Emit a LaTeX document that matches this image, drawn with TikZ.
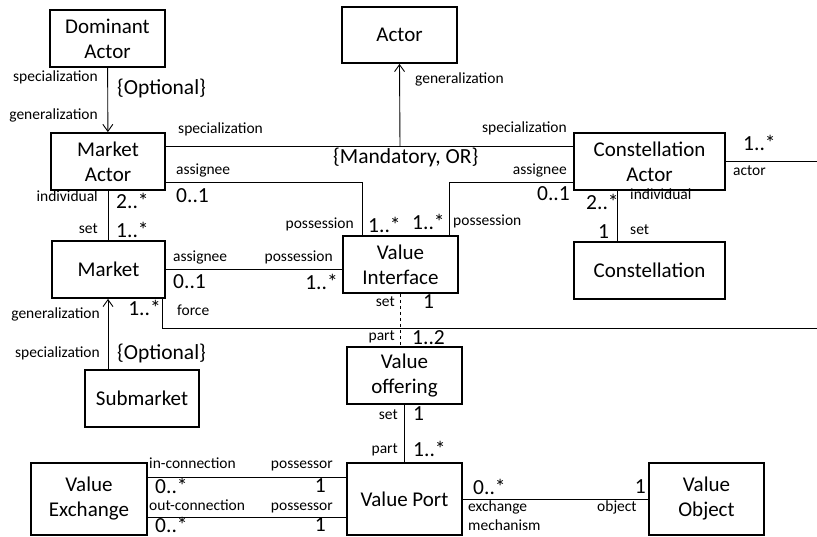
\documentclass[tikz,border=0pt]{standalone}
\usepackage{fontspec}
\setmainfont{Carlito}
\usetikzlibrary{arrows.meta}
\begin{document}
\begin{tikzpicture}[x=1pt,y=-1pt,
  cls/.style={draw,line width=1.8pt,align=center,inner sep=2pt,
    font=\fontsize{21}{25}\selectfont},
  role/.style={inner sep=0pt,font=\fontsize{15.5}{17}\selectfont},
  mult/.style={inner sep=0pt,font=\fontsize{21.5}{23}\selectfont},
  link/.style={line width=0.9pt},
  gen/.style={link,-{Straight Barb[length=7pt,width=10pt,line width=0.9pt]}}]
\useasboundingbox (0,0) rectangle (817,537);

% classes
\node[cls,minimum width=115,minimum height=57] (dom)    at (107.5,38.5) {Dominant\\Actor};
\node[cls,minimum width=115,minimum height=56] (actor)  at (399.5,35)   {Actor};
\node[cls,minimum width=114,minimum height=57] (mact)   at (108,161.5)  {Market\\Actor};
\node[cls,minimum width=151,minimum height=57] (cact)   at (649.5,161.5){Constellation\\Actor};
\node[cls,minimum width=113,minimum height=57] (market) at (108.5,269.5){Market};
\node[cls,minimum width=115,minimum height=57] (vi)     at (400.5,264.5){Value\\Interface};
\node[cls,minimum width=151,minimum height=57] (const)  at (649.5,270.5){Constellation};
\node[cls,minimum width=114,minimum height=57] (sub)    at (142,398.5)  {Submarket};
\node[cls,minimum width=115,minimum height=57] (voff)   at (404.5,375.5){Value\\offering};
\node[cls,minimum width=116,minimum height=72] (vex)    at (89,499)     {Value\\Exchange};
\node[cls,minimum width=115,minimum height=72] (vport)  at (404.5,499)  {Value Port};
\node[cls,minimum width=115,minimum height=72] (vobj)   at (706.5,499)  {Value\\Object};

% helper points for bends and free ends
\coordinate (j)  at (400,146);
\coordinate (a1) at (362,182);
\coordinate (a2) at (449,182);
\coordinate (ae) at (817,161);
\coordinate (f1) at (162,328);
\coordinate (f2) at (817,328);
\coordinate (c1) at (617,0);

% generalizations
\draw[gen] (dom) -- (mact);
\draw[gen] (j) -- (actor.south);
\draw[link] (mact.east |- j) -- (cact.west |- j);
\draw[gen] (sub.north -| mact.south) -- (mact.south |- market.south);

% associations
\draw[link] (mact.east |- a1) -- (a1) -- (a1 |- vi.north);
\draw[link] (cact.west |- a2) -- (a2) -- (a2 |- vi.north);
\draw[link] (cact.east |- ae) -- (ae);
\draw[link] (f1 |- market.south) -- (f1) -- (f2);
\draw[link] (mact.south) -- (mact.south |- market.north);
\draw[link] (market.east) -- (vi.west |- market.east);
\draw[link,dashed] (vi.south) -- (vi.south |- voff.north);
\draw[link] (cact.south -| c1) -- (const.north -| c1);
\draw[link] (voff.south) -- (vport.north);
\draw[link] (vex.east |- 0,477) -- (vport.west |- 0,477);
\draw[link] (vex.east |- 0,517) -- (vport.west |- 0,517);
\draw[link] (vport.east) -- (vobj.west);

% roles and multiplicities
\node[role,anchor=mid east] (r1) at (98,79) {specialization};
\node[mult,anchor=west] (o1) at (117,88) {\{Optional\}};
\node[role,anchor=mid east] (r2) at (98,117) {generalization};
\node[role,anchor=mid west] (r3) at (178,131) {specialization};
\node[mult,anchor=west] (o2) at (333,157) {\{Mandatory, OR\}};
\node[role,anchor=mid west] (r4) at (415,81) {generalization};
\node[role,anchor=mid east] (r5) at (567,130) {specialization};
\node[mult,anchor=west] (m1) at (743,143) {1..*};
\node[role,anchor=mid west] (r6) at (733,173) {actor};
\node[role,anchor=mid west] (r7) at (176,172) {assignee};
\node[mult,anchor=west] (m2) at (176,196) {0..1};
\node[role,anchor=mid east] (r8) at (567,172) {assignee};
\node[mult,anchor=east] (m3) at (570,194) {0..1};
\node[mult,anchor=west] (m4) at (586,202) {2..*};
\node[role,anchor=mid west] (r9) at (630,197) {individual};
\node[mult,anchor=west] (m5) at (598,232) {1};
\node[role,anchor=mid west] (r10) at (630,232) {set};
\node[role,anchor=mid east] (r11) at (98,199) {individual};
\node[mult,anchor=west] (m6) at (116,201) {2..*};
\node[role,anchor=mid east] (r12) at (98,231) {set};
\node[mult,anchor=west] (m7) at (116,230) {1..*};
\node[role,anchor=mid east] (r13) at (354,226) {possession};
\node[mult,anchor=west] (m8) at (368,225) {1..*};
\node[mult,anchor=west] (m9) at (412,222) {1..*};
\node[role,anchor=mid west] (r14) at (453,223) {possession};
\node[role,anchor=mid west] (r15) at (173,259) {assignee};
\node[role,anchor=mid east] (r16) at (333,259) {possession};
\node[mult,anchor=west] (m10) at (173,282) {0..1};
\node[mult,anchor=east] (m11) at (338,282) {1..*};
\node[mult,anchor=east] (m12) at (161,308) {1..*};
\node[role,anchor=mid west] (r17) at (177,313) {force};
\node[role,anchor=mid east] (r18) at (100,316) {generalization};
\node[role,anchor=mid east] (r19) at (100,355) {specialization};
\node[mult,anchor=west] (o3) at (117,353) {\{Optional\}};
\node[role,anchor=mid east] (r20) at (395,304) {set};
\node[mult,anchor=west] (m13) at (423,302) {1};
\node[role,anchor=mid east] (r21) at (395,338) {part};
\node[mult,anchor=west] (m14) at (412,338) {1..2};
\node[role,anchor=mid east] (r22) at (398,417) {set};
\node[mult,anchor=west] (m15) at (413,414) {1};
\node[role,anchor=mid east] (r23) at (398,451) {part};
\node[mult,anchor=west] (m16) at (413,449) {1..*};
\node[role,anchor=mid west] (r24) at (149,466) {in-connection};
\node[role,anchor=mid east] (r25) at (333,466) {possessor};
\node[mult,anchor=west] (m17) at (155,486) {0..*};
\node[mult,anchor=east] (m18) at (326,486) {1};
\node[role,anchor=mid west] (r26) at (149,508) {out-connection};
\node[role,anchor=mid east] (r27) at (333,508) {possessor};
\node[mult,anchor=west] (m19) at (155,525) {0..*};
\node[mult,anchor=east] (m20) at (326,525) {1};
\node[mult,anchor=west] (m21) at (473,487) {0..*};
\node[mult,anchor=east] (m22) at (646,487) {1};
\node[role,anchor=mid west] (r28) at (468,509) {exchange};
\node[role,anchor=mid west] (r29) at (468,528) {mechanism};
\node[role,anchor=mid west] (r30) at (597,509) {object};
\end{tikzpicture}
\end{document}
